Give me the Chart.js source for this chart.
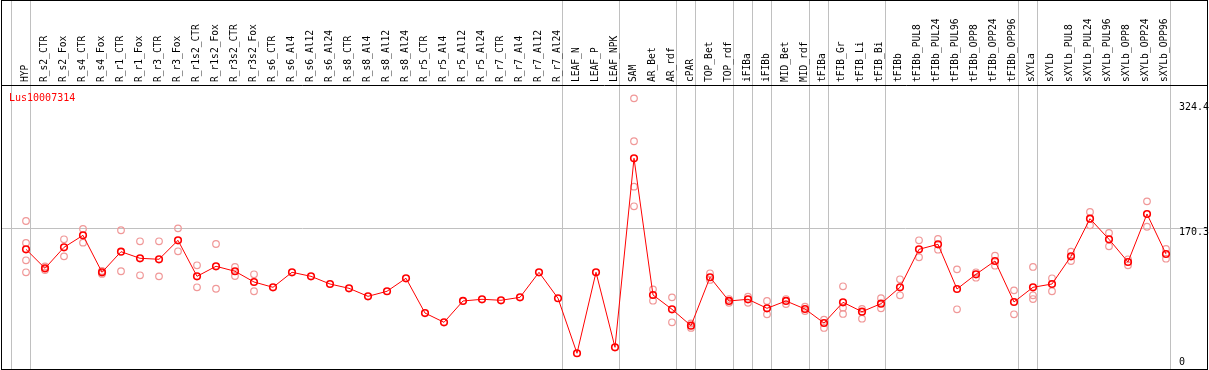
<!DOCTYPE html>
<html>
<head>
<meta charset="utf-8">
<title>Lus10007314</title>
<script src="https://cdn.jsdelivr.net/npm/chart.js@4"></script>
<style>
    body { margin: 0; background: #fff; }
    #chartBox { width: 1209px; height: 370px; }
</style>
</head>
<body>
<div id="chartBox"><canvas id="exprChart" width="1209" height="370"></canvas></div>
<script>
// Gene shown
const geneName = 'Lus10007314';

// Samples (x categories)
const samples = ['HYP', 'R_s2_CTR', 'R_s2_Fox', 'R_s4_CTR', 'R_s4_Fox', 'R_r1_CTR', 'R_r1_Fox', 'R_r3_CTR', 'R_r3_Fox',
    'R_r1s2_CTR', 'R_r1s2_Fox', 'R_r3s2_CTR', 'R_r3s2_Fox', 'R_s6_CTR', 'R_s6_Al4', 'R_s6_Al12', 'R_s6_Al24',
    'R_s8_CTR', 'R_s8_Al4', 'R_s8_Al12', 'R_s8_Al24', 'R_r5_CTR', 'R_r5_Al4', 'R_r5_Al12', 'R_r5_Al24',
    'R_r7_CTR', 'R_r7_Al4', 'R_r7_Al12', 'R_r7_Al24', 'LEAF_N', 'LEAF_P', 'LEAF_NPK', 'SAM', 'AR_Bet', 'AR_rdf',
    'cPAR', 'TOP_Bet', 'TOP_rdf', 'iFIBa', 'iFIBb', 'MID_Bet', 'MID_rdf', 'tFIBa', 'tFIB_Gr', 'tFIB_Li', 'tFIB_Bi',
    'tFIBb', 'tFIBb_PUL8', 'tFIBb_PUL24', 'tFIBb_PUL96', 'tFIBb_OPP8', 'tFIBb_OPP24', 'tFIBb_OPP96',
    'sXYLa', 'sXYLb', 'sXYLb_PUL8', 'sXYLb_PUL24', 'sXYLb_PUL96', 'sXYLb_OPP8', 'sXYLb_OPP24', 'sXYLb_OPP96'];

// Mean expression per sample
const meanValues = [145.4, 122.9, 147.8, 162.0, 118.2, 142.6, 134.8, 133.6, 156.1, 113.4, 125.3, 119.4, 106.7,
    100.4, 118.2, 113.4, 104.3, 99.2, 89.7, 95.7, 111.1, 69.9, 58.9, 84.2, 86.2, 85.0, 88.5, 118.2, 87.4,
    22.2, 118.2, 29.3, 253.3, 91.3, 74.3, 54.9, 112.3, 84.2, 86.2, 75.5, 84.2, 74.7, 58.1, 82.6, 71.5, 81.0,
    100.4, 145.4, 151.4, 98.4, 115.8, 131.6, 83.0, 100.4, 104.3, 137.1, 181.7, 157.3, 130.4, 187.3, 139.9];

// Replicate values per sample
const replicateValues = [
    [179.0, 152.9, 132.4, 118.2], [125.1, 120.9], [157.3, 137.1], [169.5, 153.3], [119.7, 116.2],
    [168.0, 119.4], [154.9, 114.6], [154.9, 113.4], [170.3, 143.1], [126.5, 100.4], [151.7, 98.7],
    [124.5, 113.8], [115.8, 95.7],
    [], [], [], [], [], [], [], [], [], [], [], [], [], [], [], [], [], [], [],
    [324.4, 273.5, 219.7, 196.4], [98.0, 84.5], [88.5, 58.9], [57.5, 52.3], [117.0, 109.1], [86.5, 82.1],
    [89.3, 82.1], [84.2, 68.4], [86.5, 80.6], [77.4, 72.3], [62.0, 52.2], [101.6, 76.2, 68.8], [74.7, 63.2],
    [87.4, 75.5], [109.9, 90.9], [156.1, 136.0], [157.7, 145.0], [121.7, 74.3], [118.2, 111.8],
    [137.9, 126.0], [96.8, 68.4], [124.5, 90.9, 86.5], [111.1, 95.7], [142.6, 131.6], [189.7, 173.9],
    [164.8, 149.0], [133.6, 126.5], [202.3, 172.2], [145.8, 134.3]
];

// Y axis labels (min, reference line, max)
const yTicks = [0, 170.3, 324.4];

// Last sample index of each group (-1 = before the first one)
const groupEnds = [-1, 0, 28, 31, 34, 35, 37, 38, 39, 41, 42, 45, 52, 53, 60];

const FONT = '10px "DejaVu Sans Mono", monospace';

// Build datasets
const meanPoints = meanValues.map((v, i) => ({ x: i, y: v }));
const repPoints = [];
replicateValues.forEach((reps, i) => {
    reps.forEach(v => repPoints.push({ x: i, y: v }));
});

// Frame, separators and texts
const framePlugin = {
    id: 'frame',
    beforeDatasetsDraw(chart) {
        const { ctx, chartArea: area, scales: { x, y } } = chart;
        ctx.save();
        ctx.strokeStyle = '#c0c0c0';
        ctx.lineWidth = 1;

        // group separators, full height
        groupEnds.forEach(g => {
            const px = Math.round(x.getPixelForValue(g + 0.23)) + 0.5;
            ctx.beginPath();
            ctx.moveTo(px, 0);
            ctx.lineTo(px, area.bottom);
            ctx.stroke();
        });

        // reference line
        const gy = Math.round(y.getPixelForValue(yTicks[1])) + 0.5;
        ctx.beginPath();
        ctx.moveTo(area.left, gy);
        ctx.lineTo(area.right, gy);
        ctx.stroke();
        ctx.restore();
    },
    afterDraw(chart) {
        const { ctx, chartArea: area, scales: { x, y } } = chart;
        ctx.save();

        // outer frame and header separator
        ctx.strokeStyle = '#000';
        ctx.lineWidth = 1;
        ctx.strokeRect(1.5, 0.5, 1206, 369);
        ctx.beginPath();
        ctx.moveTo(1, area.top + 0.5);
        ctx.lineTo(1208, area.top + 0.5);
        ctx.stroke();

        // sample names, rotated
        ctx.font = '9.6px "DejaVu Sans Mono", monospace';
        ctx.fillStyle = '#000';
        ctx.textAlign = 'left';
        ctx.textBaseline = 'middle';
        samples.forEach((name, i) => {
            ctx.save();
            ctx.translate(x.getPixelForValue(i) - 1, area.top - 3);
            ctx.rotate(-Math.PI / 2);
            ctx.fillText(name, 0, 0);
            ctx.restore();
        });

        // gene name
        ctx.font = FONT;
        ctx.fillStyle = '#ff0000';
        ctx.textBaseline = 'alphabetic';
        ctx.fillText(geneName, 9, area.top + 16);

        // y labels on the right
        ctx.fillStyle = '#000';
        ctx.textBaseline = 'top';
        yTicks.forEach(v => {
            let py = y.getPixelForValue(v);
            py = Math.max(area.top + 18, Math.min(area.bottom - 11, py));
            ctx.fillText(String(v), 1179, py - 1);
        });
        ctx.restore();
    }
};

const ctx = document.getElementById('exprChart').getContext('2d');
const exprChart = new Chart(ctx, {
    type: 'scatter',
    data: {
        datasets: [{
            label: 'mean',
            data: meanPoints,
            showLine: true,
            borderColor: '#ff0000',
            borderWidth: 1,
            pointRadius: 3.3,
            pointBorderWidth: 1.6,
            pointBorderColor: '#ff0000',
            pointBackgroundColor: 'rgba(0,0,0,0)',
            tension: 0,
            order: 1
        }, {
            label: 'replicates',
            data: repPoints,
            pointRadius: 3.3,
            pointBorderWidth: 1.2,
            pointBorderColor: '#f09898',
            pointBackgroundColor: 'rgba(0,0,0,0)',
            order: 2
        }]
    },
    options: {
        responsive: false,
        animation: false,
        events: [],
        layout: { autoPadding: false, padding: { left: 1, right: 2, top: 85, bottom: 1 } },
        scales: {
            x: { type: 'linear', display: false, min: -1.316, max: 62.158 },
            y: { type: 'linear', display: false, min: 3.56, max: 340.2 }
        },
        plugins: {
            legend: { display: false },
            tooltip: { enabled: false }
        }
    },
    plugins: [framePlugin]
});
</script>
</body>
</html>
